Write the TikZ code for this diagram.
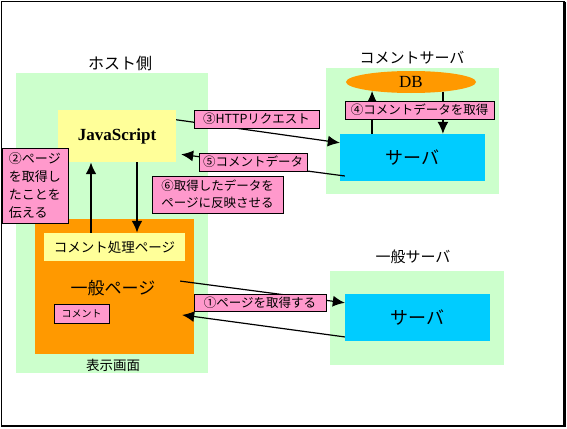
\documentclass[tikz,border=0pt]{standalone}
\usepackage{fontspec}
\setmainfont{Liberation Serif}
\newfontfamily\jp{Noto Sans CJK JP}
\usetikzlibrary{calc,arrows.meta,shapes.geometric}

\definecolor{areagreen}{HTML}{CCFFCC}
\definecolor{jsyellow}{HTML}{FFFF99}
\definecolor{pageorange}{HTML}{FF9900}
\definecolor{labelpink}{HTML}{FF99CC}
\definecolor{servcyan}{HTML}{00CCFF}

\begin{document}
\begin{tikzpicture}[x=1pt,y=-1pt,>={Latex[length=12pt,width=11pt]},
  area/.style={fill=areagreen,inner sep=0pt},
  tag/.style={draw,fill=labelpink,line width=0.8pt,inner sep=0pt,font=\jp\fontsize{12.5}{18}\selectfont},
  servbox/.style={fill=servcyan,inner sep=0pt,minimum width=145pt,minimum height=47pt,font=\jp\fontsize{18}{20}\selectfont},
  title/.style={font=\jp\fontsize{15}{18}\selectfont},
  link/.style={line width=1.2pt},
  bold link/.style={line width=2.6pt}]
                \useasboundingbox (0,0) rectangle (567,428);
                \draw[line width=1pt] (1.7,1.7) rectangle (564.7,426);
                \draw[line width=2.7pt] (564.7,1.7) -- (564.7,426) -- (1.7,426);

                % host side
                \node[area,minimum width=192pt,minimum height=300pt] (host) at (112,223) {};
                \node[font=\jp\fontsize{16}{19}\selectfont] (hosttitle) at (120,63) {ホスト側};
                \node[fill=jsyellow,inner sep=0pt,minimum width=118pt,minimum height=52pt,
                      font=\bfseries\fontsize{17}{20}\selectfont] (js) at (117,136) {JavaScript};
                \node[fill=pageorange,inner sep=0pt,minimum width=159pt,minimum height=135pt] (page) at (114.5,286.5) {};
                \node[fill=jsyellow,inner sep=0pt,minimum width=141pt,minimum height=28pt,
                      font=\jp\fontsize{13.5}{16}\selectfont] (cpage) at (114.5,247) {コメント処理ページ};
                \node[font=\jp\fontsize{17}{20}\selectfont] (pagetext) at (113,288) {一般ページ};
                \node[tag,minimum width=55pt,minimum height=19pt,font=\jp\fontsize{10}{12}\selectfont] (comment) at (81.5,313.5) {コメント};
                \node[font=\jp\fontsize{13.5}{16}\selectfont] (screen) at (113,365) {表示画面};

                % comment server
                \node[area,minimum width=173pt,minimum height=126pt] (carea) at (412.5,131) {};
                \node[title] (ctitle) at (412,58) {コメントサーバ};
                \node[ellipse,fill=pageorange,inner sep=0pt,minimum width=130pt,minimum height=22pt,
                      font=\fontsize{17}{20}\selectfont] (db) at (411,82) {DB};
                \node[servbox] (cserv) at (412.5,157.5) {サーバ};

                % general server
                \node[area,minimum width=174pt,minimum height=94pt] (garea) at (417,318) {};
                \node[title] (gtitle) at (413,257) {一般サーバ};
                \node[servbox] (gserv) at (417.5,317.5) {サーバ};

                % host arrows
                \coordinate (U) at ([xshift=-23.5pt]cpage.north);
                \draw[bold link,->] (U) -- (U |- js.south);
                \coordinate (D) at ([xshift=22.5pt]cpage.north);
                \draw[bold link,->] (D |- js.south) -- (D);

                % db arrows
                \draw[link,->] (db.193 |- cserv.north) -- (db.193);
                \draw[link,->] (db.343) -- (db.343 |- cserv.north);

                % http request
                \coordinate (H) at ($(js.north east)!.19!(js.south east)$);
                \coordinate (I) at ($(cserv.north west)!.19!(cserv.south west)$);
                \draw[link,->] (H) -- (I);

                % comment data
                \coordinate (H) at ($(cserv.north west)!.89!(cserv.south west)$);
                \coordinate (I) at ($(js.north east)!.85!(js.south east)$);
                \draw[link,->] ([xshift=5pt]H) -- ([xshift=5pt]I);

                % get page
                \coordinate (H) at ($(page.north east)!.46!(page.south east)$);
                \coordinate (I) at ($(gserv.north west)!.19!(gserv.south west)$);
                \draw[link,->] ([xshift=-14pt]H) -- (I);

                \coordinate (H) at ($(gserv.north west)!.91!(gserv.south west)$);
                \coordinate (I) at ($(page.north east)!.71!(page.south east)$);
                \draw[link,->] (H) -- ([xshift=-12pt]I);

                % labels
                \node[tag,minimum width=66pt,minimum height=75pt,align=left,
                      font=\jp\fontsize{13}{18}\selectfont] (tell) at (35,185.5) {②ページ\\を取得し\\たことを\\伝える};
                \node[tag,minimum width=125pt,minimum height=18pt] (http) at (256.5,119) {{\jp ③}HTTP{\jp リクエスト}};
                \node[tag,minimum width=149pt,minimum height=18pt] (fetch) at (419.5,110) {④コメントデータを取得};
                \node[tag,minimum width=108pt,minimum height=18pt] (cdata) at (253,162) {⑤コメントデータ};
                \node[tag,minimum width=131pt,minimum height=37pt,align=left,
                      font=\jp\fontsize{12.5}{17}\selectfont] (reflect) at (217.5,194.5) {⑥取得したデータを\\ページに反映させる};
                \node[tag,minimum width=132pt,minimum height=17pt] (getpage) at (260,302.5) {①ページを取得する};
            \end{tikzpicture}
\end{document}
